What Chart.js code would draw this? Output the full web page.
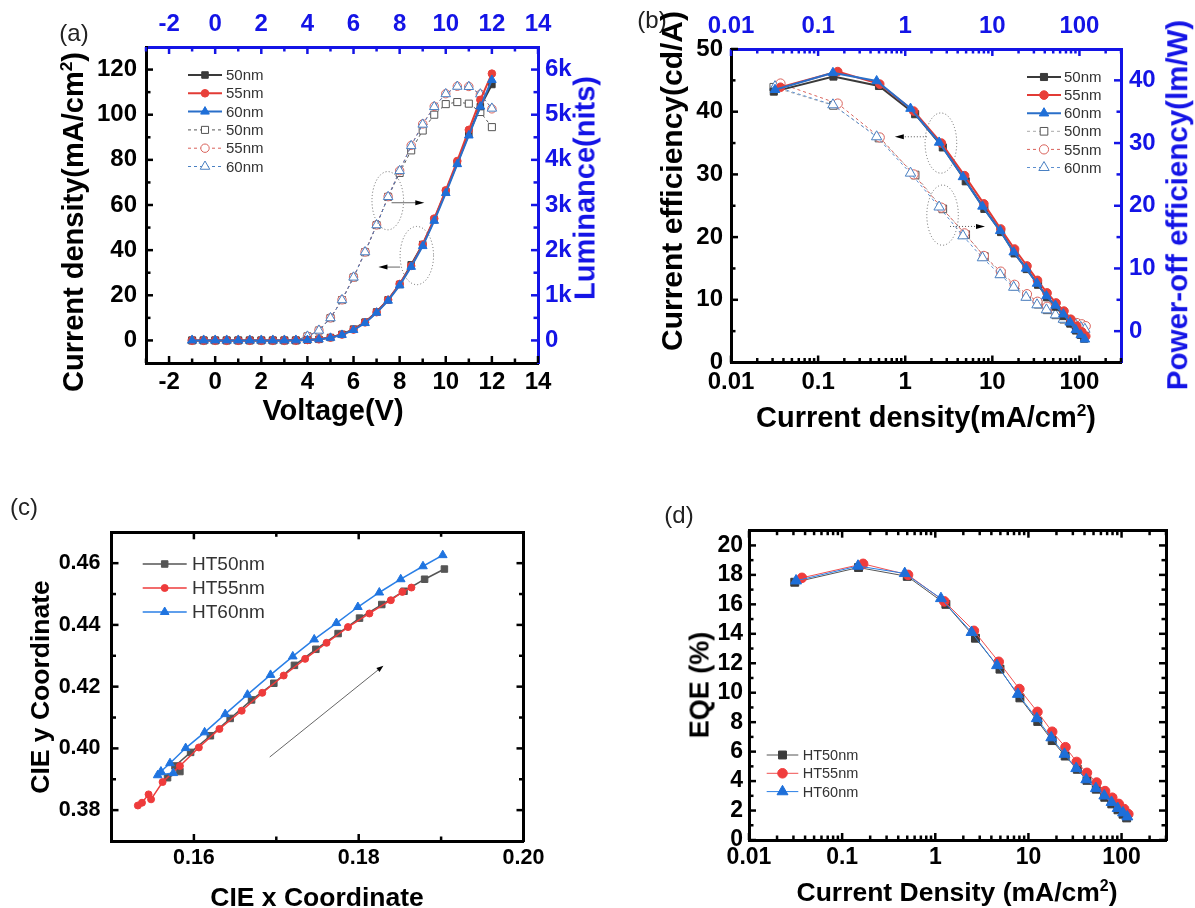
<!DOCTYPE html>
<html><head><meta charset="utf-8">
<script src="https://cdn.jsdelivr.net/npm/chart.js@4.4.1/dist/chart.umd.min.js"></script>
<style>
html,body{margin:0;padding:0;background:#fff;}
body{width:1195px;height:908px;position:relative;overflow:hidden;font-family:"Liberation Sans",Arial,sans-serif;}
canvas{position:absolute;}
.t{position:absolute;white-space:nowrap;font-weight:bold;line-height:1;transform:translate(-50%,-50%);color:#000;}
.r{transform:translate(-50%,-50%) rotate(-90deg);}
.blue{color:#1414e6;}
.p{position:absolute;white-space:nowrap;font-size:24px;line-height:1;transform:translate(-50%,-50%);color:#222;}
sup{font-size:0.6em;vertical-align:0.6em;line-height:0;}
</style></head><body>
<canvas id="ca" width="600" height="440" style="left:0;top:0"></canvas>
<canvas id="cb" width="595" height="440" style="left:600px;top:0"></canvas>
<canvas id="cc" width="600" height="448" style="left:0;top:460px"></canvas>
<canvas id="cd" width="595" height="448" style="left:600px;top:460px"></canvas>

<div class="p" style="left:74px;top:33px">(a)</div>
<div class="p" style="left:652px;top:20px">(b)</div>
<div class="p" style="left:24px;top:507px">(c)</div>
<div class="p" style="left:679px;top:515px">(d)</div>

<div class="t r" style="left:73px;top:222px;font-size:29px">Current density(mA/cm<sup>2</sup>)</div>
<div class="t" style="left:333px;top:410px;font-size:29px">Voltage(V)</div>
<div class="t r blue" style="left:585px;top:188px;font-size:29px">Luminance(nits)</div>

<div class="t r" style="left:672px;top:181px;font-size:30px">Current efficiency(cd/A)</div>
<div class="t r blue" style="left:1177px;top:205px;font-size:29.5px">Power-off efficiency(lm/W)</div>
<div class="t" style="left:926px;top:417px;font-size:29px">Current density(mA/cm<sup>2</sup>)</div>

<div class="t r" style="left:40px;top:687px;font-size:26.5px">CIE y Coordinate</div>
<div class="t" style="left:317px;top:897px;font-size:26.5px">CIE x Coordinate</div>

<div class="t r" style="left:700px;top:685px;font-size:27px">EQE (%)</div>
<div class="t" style="left:957px;top:892px;font-size:26.5px">Current Density (mA/cm<sup>2</sup>)</div>

<script>
// ================= DATA =================
// (a) J-V-L
const voltage = [-1,-0.5,0,0.5,1,1.5,2,2.5,3,3.5,4,4.5,5,5.5,6,6.5,7,7.5,8,8.5,9,9.5,10,10.5,11,11.5,12];
const jA50 = [0,0,0,0,0,0,0,0,0,0.03,0.15,0.5,1.3,2.7,5.0,8.1,12.6,18.0,24.8,33.5,42.5,53.5,66.0,78.5,91.5,103.6,113.4];
const jA55 = [0,0,0,0,0,0,0,0,0,0.04,0.17,0.5,1.25,2.6,4.8,8.0,12.5,18.0,25.0,33.0,42.5,54.0,66.5,79.5,93.3,106.6,118.2];
const jA60 = [0,0,0,0,0,0,0,0,0,0.03,0.15,0.47,1.15,2.45,4.6,7.7,12.3,17.6,24.4,32.6,41.8,53.0,65.3,78.1,90.8,103.6,115.4];
const lum50 = [0,0,0,0,0,0,0,0,0,0,90,220,495,895,1395,1955,2555,3180,3710,4210,4650,5000,5235,5280,5245,5060,4725];
const lum55 = [0,0,0,0,0,0,0,0,0,0,92,225,500,900,1400,1960,2560,3185,3760,4320,4795,5185,5465,5630,5625,5455,5130];
const lum60 = [0,0,0,0,0,0,0,0,0,0,90,222,497,897,1398,1958,2557,3182,3757,4310,4785,5175,5460,5625,5620,5455,5140];

// (b),(d) current density of each device
const jx50 = [0.031,0.15,0.50,1.30,2.70,4.95,8.1,12.6,18.0,24.8,33.5,42.5,53.5,66.0,78.5,91.5,103.6,113.4];
const jx55 = [0.037,0.168,0.51,1.25,2.60,4.80,8.0,12.5,18.0,25.0,33.0,42.5,54.0,66.5,79.5,93.3,106.6,118.2];
const jx60 = [0.032,0.148,0.47,1.15,2.45,4.60,7.7,12.3,17.6,24.4,32.6,41.8,53.0,65.3,78.1,90.8,103.6,115.4];
// (b) current efficiency (cd/A) and power efficiency (lm/W)
const ce50 = [43.2,45.6,44.1,39.6,34.3,28.9,24.5,20.8,17.4,14.9,12.4,10.4,8.9,7.4,6.2,5.1,4.4,3.8];
const ce55 = [43.9,46.4,44.4,40.1,35.0,29.8,25.3,21.3,18.1,15.4,13.1,11.1,9.5,8.2,6.9,5.8,4.9,4.2];
const ce60 = [43.5,46.2,44.9,40.5,35.1,29.6,24.9,21.0,17.6,15.0,12.6,10.6,9.1,7.7,6.4,5.2,4.4,3.7];
const pe50 = [38.9,36.0,30.8,24.9,19.5,15.4,11.9,9.2,7.2,5.6,4.3,3.4,2.6,1.9,1.4,0.9,0.6,0.3];
const pe55 = [39.5,36.3,30.9,25.0,19.7,15.6,12.0,9.5,7.4,5.9,4.7,3.9,3.1,2.3,1.8,1.3,1.1,0.8];
const pe60 = [39.0,36.1,31.0,25.2,19.8,15.2,11.7,9.0,7.0,5.4,4.2,3.4,2.6,1.9,1.5,1.0,0.6,0.3];
// (d) EQE (%)
const eqe50 = [17.5,18.5,17.9,16.0,13.7,11.6,9.65,8.05,6.75,5.7,4.8,4.05,3.45,2.9,2.45,2.05,1.75,1.5];
const eqe55 = [17.8,18.75,18.0,16.2,14.2,12.1,10.25,8.7,7.35,6.3,5.3,4.56,3.9,3.32,2.87,2.45,2.1,1.76];
const eqe60 = [17.6,18.6,18.1,16.4,14.1,11.85,9.9,8.25,6.95,5.83,4.86,4.1,3.5,3.0,2.56,2.15,1.85,1.58];
// (c) CIE coordinates
const cieX50 = [0.1568,0.1583,0.1577,0.1596,0.1620,0.1644,0.1670,0.1697,0.1722,0.1748,0.1775,0.1801,0.1828,0.1855,0.1880,0.1904];
const cieY50 = [0.3905,0.3925,0.3943,0.3987,0.4041,0.4097,0.4157,0.4211,0.4269,0.4321,0.4372,0.4422,0.4466,0.4509,0.4548,0.4581];
const cieX55 = [0.1532,0.1537,0.1545,0.1548,0.1562,0.1583,0.1606,0.1631,0.1658,0.1683,0.1709,0.1735,0.1761,0.1787,0.1813,0.1839,0.1853,0.1864];
const cieY55 = [0.3815,0.3824,0.3851,0.3835,0.3891,0.3943,0.4003,0.4063,0.4122,0.4180,0.4236,0.4290,0.4342,0.4393,0.4437,0.4480,0.4507,0.4521];
const cieX60 = [0.1575,0.1556,0.1560,0.1571,0.1590,0.1613,0.1638,0.1665,0.1693,0.1720,0.1746,0.1773,0.1799,0.1825,0.1851,0.1878,0.1902];
const cieY60 = [0.3920,0.3913,0.3925,0.3952,0.4001,0.4052,0.4111,0.4174,0.4238,0.4298,0.4353,0.4406,0.4458,0.4505,0.4548,0.4590,0.4626];

// ticks & labels
const xTicksA = [-2,0,2,4,6,8,10,12,14];
const xLabelsA = ['-2','0','2','4','6','8','10','12','14'];
const xMinorA = [-3,-1,1,3,5,7,9,11,13];
const yTicksA = [0,20,40,60,80,100,120];
const yLabelsA = ['0','20','40','60','80','100','120'];
const yMinorA = [10,30,50,70,90,110];
const lumTicks = [0,1000,2000,3000,4000,5000,6000];
const lumLabels = ['0','1k','2k','3k','4k','5k','6k'];
const lumMinor = [500,1500,2500,3500,4500,5500];
const logTicks = [0.01,0.1,1,10,100];
const logLabels = ['0.01','0.1','1','10','100'];
const logMinor = [0.02,0.03,0.04,0.05,0.06,0.07,0.08,0.09,0.2,0.3,0.4,0.5,0.6,0.7,0.8,0.9,2,3,4,5,6,7,8,9,20,30,40,50,60,70,80,90,200,300];
const ceTicks = [0,10,20,30,40,50];
const ceLabels = ['0','10','20','30','40','50'];
const ceMinor = [5,15,25,35,45];
const peTicks = [0,10,20,30,40];
const peLabels = ['0','10','20','30','40'];
const peMinor = [5,15,25,35];
const cxTicks = [0.16,0.18,0.20];
const cxLabels = ['0.16','0.18','0.20'];
const cxMinor = [0.17,0.19];
const cyTicks = [0.38,0.40,0.42,0.44,0.46];
const cyLabels = ['0.38','0.40','0.42','0.44','0.46'];
const cyMinor = [0.39,0.41,0.43,0.45];
const eqeTicks = [0,2,4,6,8,10,12,14,16,18,20];
const eqeLabels = ['0','2','4','6','8','10','12','14','16','18','20'];
const eqeMinor = [1,3,5,7,9,11,13,15,17,19];

// annotations (data coordinates)
const notesA = [
  {type:'ellipse', x1:6.8, x2:8.17, y1:49, y2:74.8},
  {type:'ellipse', x1:8.02, x2:9.47, y1:24.7, y2:50.5},
  {type:'arrow', x1:7.65, y1:61, x2:9.07, y2:61},
  {type:'arrow', x1:8.02, y1:32.5, x2:7.08, y2:32.5}
];
const notesB = [
  {type:'ellipse', x1:1.69, x2:3.9, y1:30.2, y2:39.8},
  {type:'ellipse', x1:1.77, x2:4.07, y1:18.7, y2:28.3},
  {type:'arrow', x1:1.77, y1:36, x2:0.76, y2:36, dotted:true},
  {type:'arrow', x1:3.27, y1:21.7, x2:8.24, y2:21.7, dotted:true}
];
const notesC = [ {type:'arrow', x1:0.1692, y1:0.3972, x2:0.1830, y2:0.4268, head:7} ];

// ================= HELPERS =================
const FONT = "'Liberation Sans', Arial, Helvetica, sans-serif";
const BLUE = '#1414e6';
const pts = (xs, ys) => xs.map((x,i)=>({x:x, y:ys[i]}));

function drawMarker(ctx, style, x, y, r, fill, stroke, lw){
  ctx.save(); ctx.setLineDash([]); ctx.beginPath();
  if(style==='rect'){ const s=r*Math.SQRT1_2; ctx.rect(x-s,y-s,2*s,2*s); }
  else if(style==='triangle'){ ctx.moveTo(x,y-r); ctx.lineTo(x+r*0.866,y+r*0.5); ctx.lineTo(x-r*0.866,y+r*0.5); ctx.closePath(); }
  else { ctx.arc(x,y,r,0,Math.PI*2); }
  ctx.fillStyle=fill; ctx.fill(); ctx.lineWidth=lw; ctx.strokeStyle=stroke; ctx.stroke(); ctx.restore();
}

function axis(o){
  return {
    type:o.type||'linear', position:o.position, min:o.min, max:o.max, display:true,
    grid:{display:false, drawTicks:false},
    border:{display:true, color:o.color||'#000', width:3},
    title:{display:false},
    ticks:{display:!!o.labels, color:o.color||'#000', font:{family:FONT, size:o.fs||24, weight:'bold'},
      padding:o.pad||6, autoSkip:false, maxRotation:0, minRotation:0,
      callback:(v,i)=> o.labels ? o.labels[i] : ''},
    afterBuildTicks:s=>{ s.ticks = o.ticks.map(v=>({value:v})); },
    afterFit:s=>{ if(s.isHorizontal()) s.height=o.size; else s.width=o.size; }
  };
}

function tickPlugin(spec){
  return { id:'innerTicks', afterDraw(chart){
    const ctx=chart.ctx, ca=chart.chartArea; ctx.save();
    for(const id in spec){
      const s=chart.scales[id], t=spec[id];
      ctx.strokeStyle=t.color||'#000'; ctx.lineWidth=t.w||2.5;
      const draw=(v,len)=>{ const p=s.getPixelForValue(v); ctx.beginPath();
        if(s.position==='left'){ctx.moveTo(ca.left,p);ctx.lineTo(ca.left+len,p);}
        else if(s.position==='right'){ctx.moveTo(ca.right,p);ctx.lineTo(ca.right-len,p);}
        else if(s.position==='top'){ctx.moveTo(p,ca.top);ctx.lineTo(p,ca.top+len);}
        else {ctx.moveTo(p,ca.bottom);ctx.lineTo(p,ca.bottom-len);} ctx.stroke(); };
      t.major.forEach(v=>draw(v,t.ml||7)); (t.minor||[]).forEach(v=>draw(v,t.nl||4.5));
    }
    ctx.restore(); } };
}

function legendPlugin(c){
  return { id:'customLegend', afterDraw(chart){
    const ctx=chart.ctx; ctx.save(); ctx.font=c.font; ctx.textBaseline='middle'; ctx.textAlign='left';
    chart.data.datasets.forEach((ds,i)=>{
      const y=c.y0+i*c.dy;
      ctx.beginPath(); ctx.setLineDash(ds.borderDash||[]); ctx.strokeStyle=ds.borderColor; ctx.lineWidth=ds.borderWidth;
      ctx.moveTo(c.x1,y); ctx.lineTo(c.x2,y); ctx.stroke(); ctx.setLineDash([]);
      drawMarker(ctx, ds.pointStyle, (c.x1+c.x2)/2, y, ds.pointRadius, ds.pointBackgroundColor, ds.pointBorderColor, ds.pointBorderWidth);
      ctx.fillStyle=c.color; ctx.fillText(ds.label, c.tx, y+1);
    });
    ctx.restore(); } };
}

function notePlugin(notes, xs, ys){
  return { id:'notes', afterDatasetsDraw(chart){
    const ctx=chart.ctx, sx=chart.scales[xs||'x'], sy=chart.scales[ys||'y']; ctx.save();
    notes.forEach(n=>{
      const x1=sx.getPixelForValue(n.x1), x2=sx.getPixelForValue(n.x2), y1=sy.getPixelForValue(n.y1), y2=sy.getPixelForValue(n.y2);
      if(n.type==='ellipse'){
        ctx.beginPath(); ctx.setLineDash([1,2.2]); ctx.strokeStyle='#666'; ctx.lineWidth=1;
        ctx.ellipse((x1+x2)/2,(y1+y2)/2,Math.abs(x2-x1)/2,Math.abs(y2-y1)/2,0,0,Math.PI*2); ctx.stroke();
      } else {
        const a=Math.atan2(y2-y1,x2-x1), h=n.head||9;
        ctx.beginPath(); ctx.setLineDash(n.dotted?[1,2]:[]); ctx.strokeStyle=n.dotted?'#555':'#666'; ctx.lineWidth=1;
        ctx.moveTo(x1,y1); ctx.lineTo(x2-h*0.7*Math.cos(a), y2-h*0.7*Math.sin(a)); ctx.stroke(); ctx.setLineDash([]);
        ctx.beginPath(); ctx.fillStyle='#000';
        ctx.moveTo(x2,y2);
        ctx.lineTo(x2-h*Math.cos(a)+2.5*Math.sin(a), y2-h*Math.sin(a)-2.5*Math.cos(a));
        ctx.lineTo(x2-h*Math.cos(a)-2.5*Math.sin(a), y2-h*Math.sin(a)+2.5*Math.cos(a));
        ctx.closePath(); ctx.fill();
      }
    });
    ctx.restore(); } };
}

function ds(label, data, o){
  return Object.assign({label:label, data:data, borderWidth:1, pointBorderWidth:1, tension:0, fill:false, clip:false}, o);
}

const base = {responsive:false, animation:false, devicePixelRatio:1, layout:{padding:0},
  plugins:{legend:{display:false}, tooltip:{enabled:false}, title:{display:false}}};

// ================= (a) =================
new Chart(document.getElementById('ca'), {
  type:'line',
  data:{datasets:[
    ds('50nm', pts(voltage,jA50), {borderColor:'#3a3a3a', borderWidth:2, pointStyle:'rect', pointRadius:4.6, pointBackgroundColor:'#3a3a3a', pointBorderColor:'#3a3a3a', yAxisID:'y', order:2}),
    ds('55nm', pts(voltage,jA55), {borderColor:'#e23b35', borderWidth:2, pointStyle:'circle', pointRadius:3.8, pointBackgroundColor:'#e8403a', pointBorderColor:'#e8403a', yAxisID:'y', order:1}),
    ds('60nm', pts(voltage,jA60), {borderColor:'#2a6fc9', borderWidth:2, pointStyle:'triangle', pointRadius:5, pointBackgroundColor:'#1f6fd8', pointBorderColor:'#1f6fd8', yAxisID:'y', order:0}),
    ds('50nm', pts(voltage,lum50), {borderColor:'#555', borderDash:[3,3], pointStyle:'rect', pointRadius:5, pointBackgroundColor:'#fff', pointBorderColor:'#555', yAxisID:'y2', order:5}),
    ds('55nm', pts(voltage,lum55), {borderColor:'#d9625b', borderDash:[3,3], pointStyle:'circle', pointRadius:4.2, pointBackgroundColor:'#fff', pointBorderColor:'#d9625b', yAxisID:'y2', order:4}),
    ds('60nm', pts(voltage,lum60), {borderColor:'#4a80c2', borderDash:[3,3], pointStyle:'triangle', pointRadius:5.5, pointBackgroundColor:'#fff', pointBorderColor:'#4a80c2', yAxisID:'y2', order:3})
  ]},
  options:Object.assign({}, base, {scales:{
    x: axis({position:'bottom', min:-3, max:14, size:77, ticks:xTicksA, labels:xLabelsA, pad:5}),
    x2: axis({position:'top', min:-3, max:14, size:47, ticks:xTicksA, labels:xLabelsA, color:BLUE, pad:8}),
    y: axis({position:'left', min:-10, max:130, size:146, ticks:yTicksA, labels:yLabelsA, pad:9}),
    y2: axis({position:'right', min:-500, max:6500, size:62, ticks:lumTicks, labels:lumLabels, color:BLUE, pad:7})
  }}),
  plugins:[
    tickPlugin({x:{major:xTicksA, minor:xMinorA}, x2:{major:xTicksA, minor:xMinorA, color:BLUE},
                y:{major:yTicksA, minor:yMinorA}, y2:{major:lumTicks, minor:lumMinor, color:BLUE}}),
    legendPlugin({x1:188, x2:222, tx:226, y0:75, dy:18.3, font:"15px "+FONT, color:'#333'}),
    notePlugin(notesA)
  ]
});

// ================= (b) =================
new Chart(document.getElementById('cb'), {
  type:'line',
  data:{datasets:[
    ds('50nm', pts(jx50,ce50), {borderColor:'#3a3a3a', borderWidth:2, pointStyle:'rect', pointRadius:5, pointBackgroundColor:'#3a3a3a', pointBorderColor:'#3a3a3a', yAxisID:'y', order:2}),
    ds('55nm', pts(jx55,ce55), {borderColor:'#e23b35', borderWidth:2, pointStyle:'circle', pointRadius:4.3, pointBackgroundColor:'#e8403a', pointBorderColor:'#e8403a', yAxisID:'y', order:1}),
    ds('60nm', pts(jx60,ce60), {borderColor:'#2a6fc9', borderWidth:2, pointStyle:'triangle', pointRadius:5.5, pointBackgroundColor:'#1f6fd8', pointBorderColor:'#1f6fd8', yAxisID:'y', order:0}),
    ds('50nm', pts(jx50,pe50), {borderColor:'#aaa', borderDash:[3,3], pointStyle:'rect', pointRadius:5.4, pointBackgroundColor:'#fff', pointBorderColor:'#555', yAxisID:'y2', order:5}),
    ds('55nm', pts(jx55,pe55), {borderColor:'#d9625b', borderDash:[3,3], pointStyle:'circle', pointRadius:4.6, pointBackgroundColor:'#fff', pointBorderColor:'#d9625b', yAxisID:'y2', order:4}),
    ds('60nm', pts(jx60,pe60), {borderColor:'#5d8fcf', borderDash:[3,3], pointStyle:'triangle', pointRadius:6, pointBackgroundColor:'#fff', pointBorderColor:'#4a80c2', yAxisID:'y2', order:3})
  ]},
  options:Object.assign({}, base, {scales:{
    x: axis({type:'logarithmic', position:'bottom', min:0.01, max:300, size:77.5, ticks:logTicks, labels:logLabels, pad:5}),
    x2: axis({type:'logarithmic', position:'top', min:0.01, max:300, size:49, ticks:logTicks, labels:logLabels, color:BLUE, pad:8}),
    y: axis({position:'left', min:0, max:50, size:131, ticks:ceTicks, labels:ceLabels, pad:8}),
    y2: axis({position:'right', min:-5, max:45, size:74, ticks:peTicks, labels:peLabels, color:BLUE, pad:8})
  }}),
  plugins:[
    tickPlugin({x:{major:logTicks, minor:logMinor}, x2:{major:logTicks, minor:logMinor, color:BLUE},
                y:{major:ceTicks, minor:ceMinor}, y2:{major:peTicks, minor:peMinor, color:BLUE}}),
    legendPlugin({x1:427, x2:461, tx:464, y0:77, dy:18.1, font:"15px "+FONT, color:'#333'}),
    notePlugin(notesB)
  ]
});

// ================= (c) =================
new Chart(document.getElementById('cc'), {
  type:'line',
  data:{datasets:[
    ds('HT50nm', pts(cieX50,cieY50), {borderColor:'#555', borderWidth:1.5, pointStyle:'rect', pointRadius:4.6, pointBackgroundColor:'#555', pointBorderColor:'#555', order:2}),
    ds('HT55nm', pts(cieX55,cieY55), {borderColor:'#ee3b3b', borderWidth:1.5, pointStyle:'circle', pointRadius:3.5, pointBackgroundColor:'#ee3b3b', pointBorderColor:'#ee3b3b', order:1}),
    ds('HT60nm', pts(cieX60,cieY60), {borderColor:'#2a7fe6', borderWidth:1.5, pointStyle:'triangle', pointRadius:5, pointBackgroundColor:'#1f74e0', pointBorderColor:'#1f74e0', order:0})
  ]},
  options:Object.assign({}, base, {scales:{
    x: axis({position:'bottom', min:0.15, max:0.20, size:67, ticks:cxTicks, labels:cxLabels, fs:21.5, pad:4}),
    x2: axis({position:'top', min:0.15, max:0.20, size:72.3, ticks:cxTicks}),
    y: axis({position:'left', min:0.37, max:0.47, size:111.5, ticks:cyTicks, labels:cyLabels, fs:21.5, pad:11}),
    y2: axis({position:'right', min:0.37, max:0.47, size:76.5, ticks:cyTicks})
  }}),
  plugins:[
    tickPlugin({x:{major:cxTicks, minor:cxMinor}, x2:{major:cxTicks, minor:cxMinor},
                y:{major:cyTicks, minor:cyMinor}, y2:{major:cyTicks, minor:cyMinor}}),
    legendPlugin({x1:142.7, x2:186.7, tx:192, y0:104, dy:24, font:"19px "+FONT, color:'#333'}),
    notePlugin(notesC)
  ]
});

// ================= (d) =================
new Chart(document.getElementById('cd'), {
  type:'line',
  data:{datasets:[
    ds('HT50nm', pts(jx50,eqe50), {borderColor:'#555', borderWidth:1, pointStyle:'rect', pointRadius:5.6, pointBackgroundColor:'#3c3c3c', pointBorderColor:'#3c3c3c', order:2}),
    ds('HT55nm', pts(jx55,eqe55), {borderColor:'#f05050', borderWidth:1, pointStyle:'circle', pointRadius:4.8, pointBackgroundColor:'#f03c3c', pointBorderColor:'#f03c3c', order:1}),
    ds('HT60nm', pts(jx60,eqe60), {borderColor:'#2a7fe6', borderWidth:1, pointStyle:'triangle', pointRadius:6.3, pointBackgroundColor:'#1e6fd9', pointBorderColor:'#1e6fd9', order:0})
  ]},
  options:Object.assign({}, base, {scales:{
    x: axis({type:'logarithmic', position:'bottom', min:0.01, max:300, size:68, ticks:logTicks, labels:logLabels, fs:23, pad:4}),
    x2: axis({type:'logarithmic', position:'top', min:0.01, max:300, size:70.7, ticks:logTicks}),
    y: axis({position:'left', min:0, max:21, size:149, ticks:eqeTicks, labels:eqeLabels, fs:23, pad:6}),
    y2: axis({position:'right', min:0, max:21, size:29, ticks:eqeTicks})
  }}),
  plugins:[
    tickPlugin({x:{major:logTicks, minor:logMinor}, x2:{major:logTicks, minor:logMinor},
                y:{major:eqeTicks, minor:eqeMinor}, y2:{major:eqeTicks, minor:eqeMinor}}),
    legendPlugin({x1:166.7, x2:198.3, tx:202.7, y0:295, dy:18.3, font:"14.5px "+FONT, color:'#333'})
  ]
});
</script>
</body></html>
